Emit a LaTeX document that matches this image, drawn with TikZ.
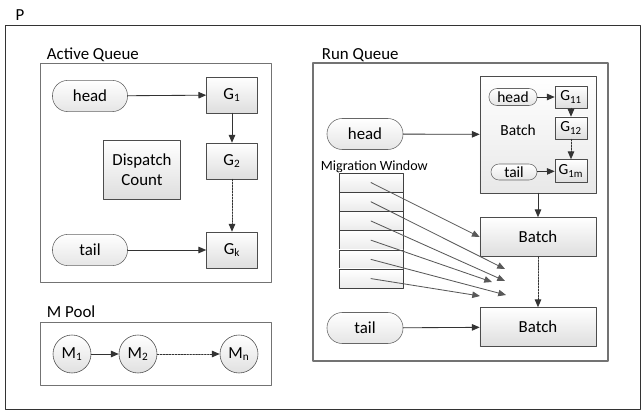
\documentclass[tikz,border=0pt]{standalone}
\usepackage{fontspec}
\setmainfont{Carlito}
\usetikzlibrary{arrows.meta,shadows}

\begin{document}
\begin{tikzpicture}[x=0.025cm, y=-0.025cm, >={Triangle[length=5.5pt,width=4.6pt]},
		font=\fontsize{12}{14}\selectfont, line cap=round, line join=round,
		frame/.style={draw=black!55, semithick},
		gbox/.style={draw=black!70, top color=white, bottom color=black!13,
			drop shadow={shadow xshift=0.7pt, shadow yshift=-0.7pt, fill=black!45, opacity=0.5},
			minimum width=1.275cm, minimum height=0.9cm, inner sep=1pt, align=center},
		pill/.style={draw=black!60, rounded corners=0.38cm, top color=white, bottom color=black!10,
			minimum width=1.875cm, minimum height=0.78cm, inner sep=1pt},
		mcirc/.style={circle, draw=black!70, top color=white, bottom color=black!12,
			minimum size=0.95cm, inner sep=0pt},
		cell/.style={draw=black!75, top color=white, bottom color=black!8,
			minimum width=1.6cm, minimum height=0.48cm, inner sep=0pt},
		link/.style={->, draw=black!80, semithick},
		dots/.style={link, dash pattern=on 1.2pt off 0.9pt},
		mig/.style={->, draw=black!65, semithick}]
	\useasboundingbox (0,0) rectangle (642,412);

	% === P ===
	\node (plabel) at (20,15) {P};
	\draw[draw=black!80] (5,25) rectangle (640,409);

	% === ACTIVE QUEUE ===
	\node[anchor=base west] (aqlabel) at (42,60) {Active Queue};
	\draw[frame] (40,63) rectangle (271,282);
	\node[pill] (aqhead) at (90,96) {head};
	\node[pill] (aqtail) at (90,250) {tail};
	\node[gbox] (g1) at (232,95) {G\textsubscript{1}};
	\node[gbox] (g2) at (232,161) {G\textsubscript{2}};
	\node[gbox] (gk) at (232,250) {G\textsubscript{k}};
	\node[gbox, minimum width=1.925cm, minimum height=1.475cm] (dispatch) at (142,170) {Dispatch\\Count};
	\draw[link] (aqhead) -- (g1);
	\draw[link] (g1) -- (g2);
	\draw[dots] (g2) -- (gk);
	\draw[link] (aqtail) -- (gk);

	% === M POOL ===
	\node[anchor=base west] (mplabel) at (42,317) {M Pool};
	\draw[frame] (40,322) rectangle (271,385);
	\node[mcirc] (m1) at (72,354) {M\textsubscript{1}};
	\node[mcirc] (m2) at (138,354) {M\textsubscript{2}};
	\node[mcirc] (mn) at (239,354) {M\textsubscript{n}};
	\draw[link] (m1) -- (m2);
	\draw[dots] (m2) -- (mn);

	% === RUN QUEUE ===
	\node[anchor=base west] (rqlabel) at (317,60) {Run Queue};
	\draw[draw=black!55, thick] (313,63) rectangle (608,361);
	\node[gbox, minimum width=2.9cm, minimum height=2.925cm, bottom color=black!9] (batch1) at (538,134.5) {};
	\node[font=\fontsize{11}{13}\selectfont] (b1label) at (518,130) {Batch};
	\begin{scope}[font=\fontsize{11}{13}\selectfont]
		\node[pill, rounded corners=0.2cm, minimum width=1.2cm, minimum height=0.425cm] (bhead) at (513,97) {head};
		\node[pill, rounded corners=0.2cm, minimum width=1.15cm, minimum height=0.4cm] (btail) at (514,172) {tail};
		\node[gbox, minimum width=0.8cm, minimum height=0.55cm] (g11) at (571,97) {G\textsubscript{11}};
		\node[gbox, minimum width=0.8cm, minimum height=0.55cm] (g12) at (571,128) {G\textsubscript{12}};
		\node[gbox, minimum width=0.8cm, minimum height=0.575cm] (g1m) at (571,171) {G\textsubscript{1m}};
	\end{scope}
	\draw[link] (bhead) -- (g11);
	\draw[link] (g11) -- (g12);
	\draw[dots] (g12) -- (g1m);
	\draw[link] (btail) -- (g1m);

	\node[pill, minimum width=1.9cm, minimum height=0.775cm] (rqhead) at (365,134) {head};
	\node[pill, minimum width=1.9cm, minimum height=0.775cm] (rqtail) at (365,328) {tail};
	\node[gbox, minimum width=2.9cm, minimum height=0.975cm] (batch2) at (538,237) {Batch};
	\node[gbox, minimum width=2.9cm, minimum height=0.975cm] (batch3) at (538,327) {Batch};
	\draw[link] (rqhead) -- (batch1);
	\draw[link] (batch1) -- (batch2);
	\draw[dots] (batch2) -- (batch3);
	\draw[link] (rqtail) -- (batch3);

	% migration window
	\node[anchor=base west, font=\fontsize{10}{12}\selectfont] (mwlabel) at (316,171) {Migration Window};
	\foreach \i in {1,...,6}
		\node[cell] (w\i) at (371,{163.4+19.2*\i}) {};
	\coordinate (e2) at (505,269);
	\coordinate (e3) at (505,281);
	\coordinate (e4) at (492,282);
	\coordinate (e5) at (506,295);
	\coordinate (e6) at (480,296);
	\draw[mig] (w1.center) -- (batch2.west);
	\foreach \i in {2,...,6}
		\draw[mig] (w\i.center) -- (e\i);
\end{tikzpicture}
\end{document}
